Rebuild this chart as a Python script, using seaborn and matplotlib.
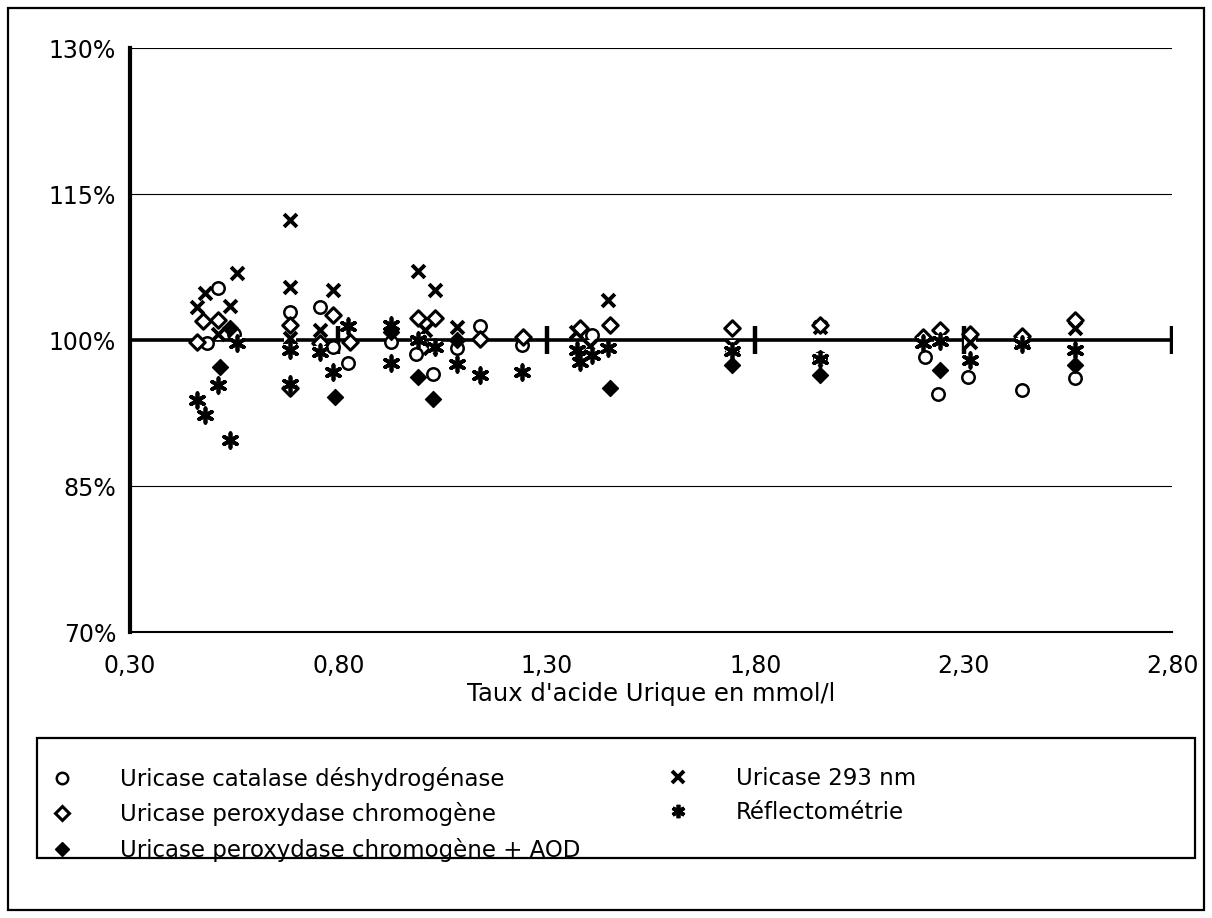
import numpy as np
import pandas as pd
import matplotlib
matplotlib.use("Agg")
import matplotlib.pyplot as plt
from matplotlib.lines import Line2D
from matplotlib.patches import Rectangle
import seaborn as sns

# Relative result (% of target) versus uric acid concentration, per method
catalase_x = [0.511, 0.485, 0.55, 0.684, 0.756, 0.787, 0.823, 0.925, 0.986, 1.027,
              1.085, 1.14, 1.24, 1.408, 1.955, 2.207, 2.239, 2.31, 2.44, 2.567]
catalase_y = [105.3, 99.7, 100.6, 102.9, 103.4, 99.3, 97.6, 99.8, 98.6, 96.5,
              99.2, 101.4, 99.5, 100.5, 98.1, 98.3, 94.5, 96.2, 94.9, 96.1]

uv293_x = [0.46, 0.48, 0.511, 0.54, 0.557, 0.684, 0.684, 0.684, 0.756, 0.787,
           0.991, 1.008, 1.02, 1.032, 1.085, 1.37, 1.404, 1.447, 1.744, 1.955,
           2.243, 2.315, 2.44, 2.567]
uv293_y = [103.4, 104.8, 100.6, 103.5, 106.9, 112.3, 105.4, 100.2, 101.0, 105.1,
           107.1, 101.0, 99.2, 105.1, 101.3, 100.8, 99.4, 104.1, 99.4, 101.3,
           100.6, 99.8, 100.0, 101.2]

perox_x = [0.46, 0.475, 0.511, 0.684, 0.684, 0.787, 0.756, 0.828, 0.991, 1.032,
           1.14, 1.243, 1.38, 1.452, 1.744, 1.955, 2.203, 2.243, 2.315, 2.44, 2.567]
perox_y = [99.8, 102.0, 102.1, 101.5, 95.1, 102.6, 99.7, 99.8, 102.3, 102.3,
           100.1, 100.3, 101.2, 101.5, 101.2, 101.5, 100.3, 101.0, 100.6, 100.4, 102.1]

reflecto_x = [0.46, 0.48, 0.511, 0.54, 0.557, 0.684, 0.684, 0.756, 0.787, 0.823,
              0.925, 0.925, 0.991, 1.032, 1.085, 1.14, 1.24, 1.372, 1.38, 1.408,
              1.447, 1.744, 1.955, 2.203, 2.243, 2.315, 2.44, 2.567]
reflecto_y = [93.8, 92.3, 95.4, 89.7, 99.7, 99.0, 95.5, 98.8, 96.7, 101.4,
              101.5, 97.6, 100.0, 99.3, 97.5, 96.4, 96.7, 99.0, 97.7, 98.5,
              99.2, 98.9, 98.0, 99.7, 99.9, 97.9, 99.6, 99.0]

aod_x = [0.516, 0.54, 0.792, 0.925, 0.991, 1.027, 1.085, 1.452, 1.744, 1.955, 2.243, 2.567]
aod_y = [97.2, 101.2, 94.1, 100.8, 96.2, 93.9, 100.0, 95.1, 97.4, 96.4, 96.9, 97.4]

x_ticks = [0.30, 0.80, 1.30, 1.80, 2.30, 2.80]
y_ticks = [70, 85, 100, 115, 130]
grid_levels = [85, 115, 130]
target_level = 100

labels = {
    "catalase": "Uricase catalase déshydrogénase",
    "uv293": "Uricase 293 nm",
    "perox": "Uricase peroxydase chromogène",
    "reflecto": "Réflectométrie",
    "aod": "Uricase peroxydase chromogène + AOD",
}

sns.set_style("white")
plt.rcParams["font.family"] = ["DejaVu Sans"]
plt.rcParams["text.color"] = "black"
plt.rcParams["axes.labelcolor"] = "black"

W, H = 1212, 918
fig = plt.figure(figsize=(W / 100, H / 100), dpi=100)
ax = fig.add_axes([130 / W, 1 - 632 / H, 1042 / W, 584 / H])

# reference lines
for g in grid_levels:
    ax.axhline(g, color="black", lw=0.8, zorder=0.5)
ax.axhline(target_level, color="black", lw=2.6, zorder=1)
ax.plot(x_ticks[1:], [target_level] * (len(x_ticks) - 1), ls="none", marker="|",
        ms=20, mew=3.2, color="black", zorder=1)

# marker styles
ASTER = (6, 2, 0)
styles = {
    "catalase": dict(marker="o", s=80, facecolor="white", edgecolor="black", linewidth=1.8),
    "uv293": dict(marker="x", s=85, color="black", linewidth=2.8),
    "perox": dict(marker="D", s=62, facecolor="white", edgecolor="black", linewidth=2.2),
    "reflecto": dict(marker=ASTER, s=110, color="black", linewidth=2.7),
    "aod": dict(marker="D", s=66, facecolor="black", edgecolor="black", linewidth=1.0),
}
series = [
    ("catalase", catalase_x, catalase_y),
    ("uv293", uv293_x, uv293_y),
    ("perox", perox_x, perox_y),
    ("reflecto", reflecto_x, reflecto_y),
    ("aod", aod_x, aod_y),
]

z = 2
for key, xs, ys in series:
    df = pd.DataFrame({"conc": xs, "pct": ys})
    if key in ("uv293", "reflecto"):
        # white backing so line-art markers mask what lies beneath
        sns.scatterplot(data=df, x="conc", y="pct", ax=ax, marker="s", s=70,
                        color="white", linewidth=0, zorder=z, legend=False)
    sns.scatterplot(data=df, x="conc", y="pct", ax=ax, zorder=z + 0.5,
                    legend=False, **styles[key])
    z += 1

ax.set_xlim(x_ticks[0], x_ticks[-1])
ax.set_ylim(y_ticks[0], y_ticks[-1])
ax.set_xticks(x_ticks)
ax.set_xticklabels([f"{v:.2f}".replace(".", ",") for v in x_ticks])
ax.set_yticks(y_ticks)
ax.set_yticklabels([f"{v}%" for v in y_ticks])

for side in ("top", "right"):
    ax.spines[side].set_visible(False)
ax.spines["left"].set_linewidth(3.0)
ax.spines["bottom"].set_linewidth(1.5)
for sp in ax.spines.values():
    sp.set_color("black")
    sp.set_zorder(1)

ax.tick_params(axis="y", direction="inout", length=20, width=2.8, pad=0,
               labelsize=17, colors="black")
ax.tick_params(axis="x", direction="in", length=9, width=1.5, pad=16,
               labelsize=17, colors="black")
ax.set_xlabel("Taux d'acide Urique en mmol/l", fontsize=17.5, labelpad=3, color="black")
ax.set_ylabel("")

# legend in two columns inside a framed box
def handle(key):
    st = styles[key]
    fc = st.get("facecolor", "none")
    ec = st.get("edgecolor", st.get("color", "black"))
    return Line2D([], [], ls="none", marker=st["marker"], markersize=np.sqrt(st["s"]) * 0.92,
                  markerfacecolor=fc, markeredgecolor=ec, markeredgewidth=st["linewidth"],
                  color="black")

col1 = ["catalase", "perox", "aod"]
col2 = ["uv293", "reflecto"]
leg_kw = dict(loc="upper left", frameon=False, fontsize=16.5, handlelength=1.0,
              handletextpad=2.0, labelspacing=0.5, borderpad=0, borderaxespad=0,
              labelcolor="black")
fig.legend([handle(k) for k in col1], [labels[k] for k in col1],
           bbox_to_anchor=(51 / W, 1 - 767 / H), **leg_kw)
fig.legend([handle(k) for k in col2], [labels[k] for k in col2],
           bbox_to_anchor=(667 / W, 1 - 767 / H), **leg_kw)

fig.add_artist(Rectangle((37 / W, 1 - 858 / H), 1158 / W, 120 / H, transform=fig.transFigure,
                         fill=False, lw=1.6, ec="black"))
fig.add_artist(Rectangle((8 / W, 1 - 910 / H), 1196 / W, 902 / H, transform=fig.transFigure,
                         fill=False, lw=1.6, ec="black"))

fig.savefig("out.png", dpi=100)
